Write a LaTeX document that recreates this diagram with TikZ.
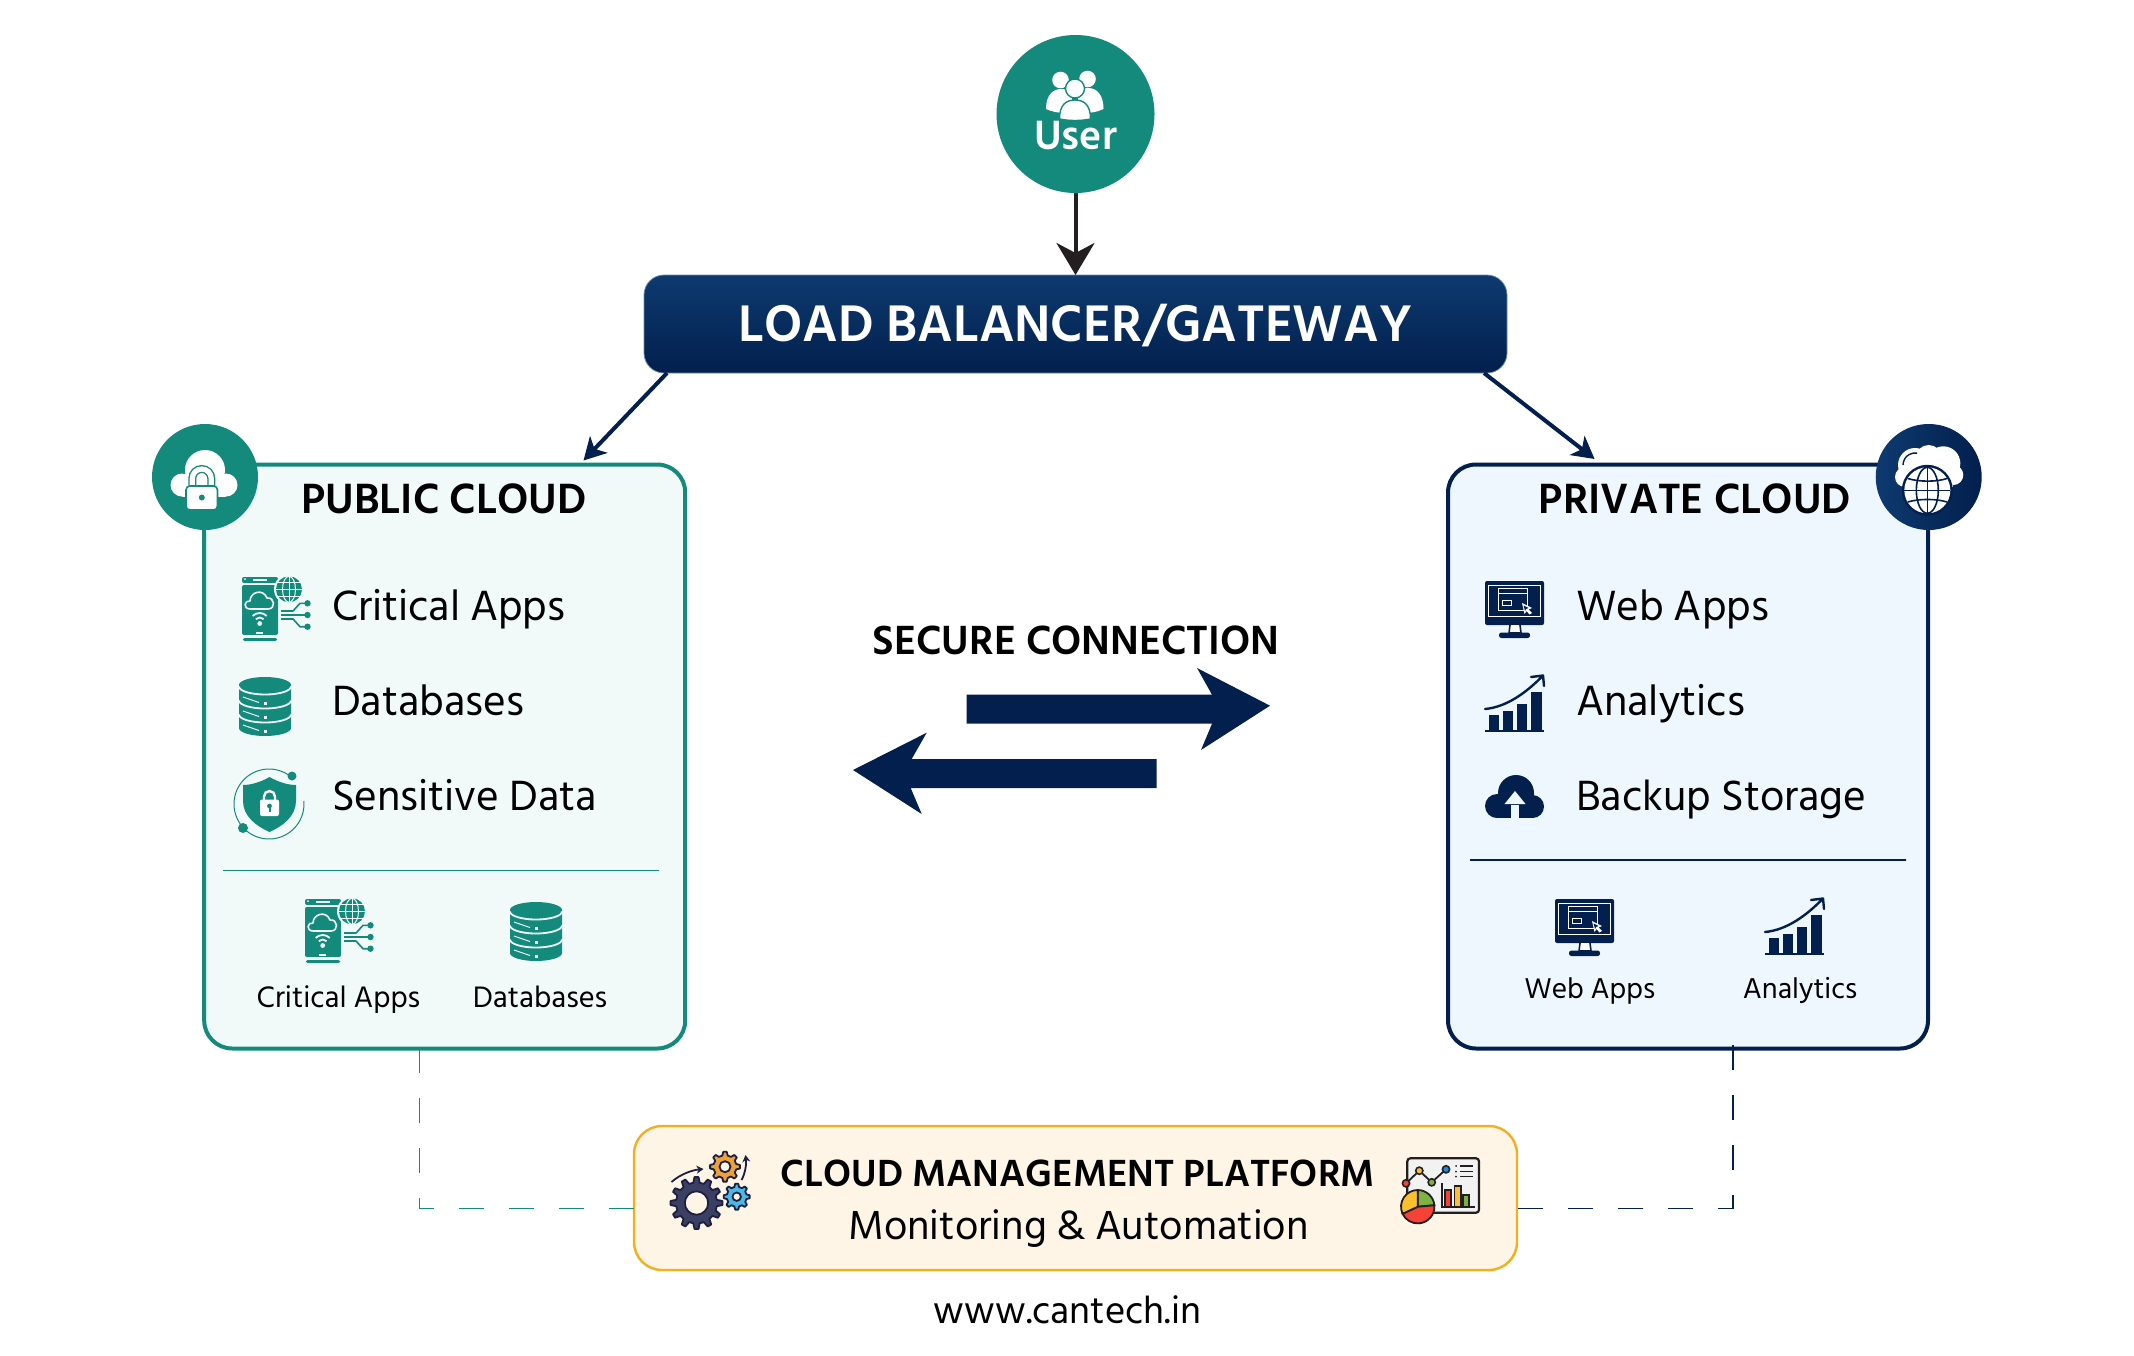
\documentclass[tikz,border=0pt]{standalone}
\usepackage{fontspec}
\usetikzlibrary{arrows.meta}
\newfontfamily\hind{Hind Siliguri}
\newcommand\fs[1]{\fontsize{#1}{#1}\selectfont}
\definecolor{tealc}{HTML}{148A7C}
\definecolor{navyc}{HTML}{021F4D}
\definecolor{navyl}{HTML}{0E3A70}
\definecolor{pubfc}{HTML}{F1FAF9}
\definecolor{prvfc}{HTML}{EFF7FE}
\definecolor{cmpfc}{HTML}{FEF5E6}
\definecolor{amberc}{HTML}{F5AE1E}
\definecolor{inkc}{HTML}{231F20}
\definecolor{gearc}{HTML}{3A3F63}
\definecolor{geard}{HTML}{1C2040}
\definecolor{gearo}{HTML}{EDA136}
\definecolor{gearb}{HTML}{4BB8E8}
\definecolor{chr}{HTML}{F44336}
\definecolor{chy}{HTML}{FBC02D}
\definecolor{chg}{HTML}{7CB342}
\definecolor{chb}{HTML}{1E88E5}
\newcommand\geardraw[8]{% cx cy ro rr hole n fill holefill
  \begin{scope}[shift={(#1,#2)}]
    \pgfmathsetmacro\gs{360/#6}
    \draw[draw=geard,fill=#7,line width=.9pt,line join=round] ({-.3*\gs}:#4)
      \foreach \k [evaluate=\k as \ga using \k*\gs] in {0,...,\numexpr#6-1\relax} {
        -- ({\ga-.3*\gs}:#4) -- ({\ga-.15*\gs}:#3) -- ({\ga+.15*\gs}:#3) -- ({\ga+.3*\gs}:#4)
      } -- cycle;
    \draw[draw=geard,fill=#8,line width=.9pt] (0,0) circle[radius=#5];
  \end{scope}}
\tikzset{
  x=.5pt,y=-.5pt,
  every node/.style={inner sep=0pt,outer sep=0pt},
  titletxt/.style={font=\hind\bfseries\fs{21.7},text=black,anchor=base},
  itemtxt/.style={font=\hind\fs{21.7},text=black,anchor=base west},
  subtxt/.style={font=\hind\fs{15.2},text=black,anchor=base},
  subtxtb/.style={font=\hind\fs{14.7},text=black,anchor=base},
  pubbox/.style={draw=tealc,fill=pubfc,line width=2pt,rounded corners=14pt,minimum width=240.5pt,minimum height=292pt},
  prvbox/.style={draw=navyc,fill=prvfc,line width=2pt,rounded corners=14pt,minimum width=240pt,minimum height=292pt},
  dbicon/.pic={
    \fill[tealc] (0,8) -- (0,51) arc[start angle=180,end angle=0,x radius=26,y radius=8] -- (52,8) arc[start angle=0,end angle=-180,x radius=26,y radius=8] -- cycle;
    \foreach \yy in {9.5,23.5,37.5}{
      \draw[pubfc,line width=.9pt] (0,\yy) arc[start angle=180,end angle=0,x radius=26,y radius=8];}
    \foreach \yy in {26,40,54}{\fill[pubfc] (24.5,\yy-1.5) rectangle (27.5,\yy+1.5);}
    \draw[pubfc,line width=.5pt] (4,20) -- (20,25.5) (4,34) -- (20,39.5) (4,48) -- (20,53.5);
  },
  phoneicon/.pic={
    \fill[tealc,rounded corners=1pt] (0,1) rectangle (36,7);
    \fill[pubfc] (3,3.2) circle[radius=1];
    \fill[pubfc] (11,3) rectangle (25,4.6);
    \fill[tealc,rounded corners=1pt] (0,9) rectangle (36,59);
    \fill[tealc,rounded corners=1pt] (1,62) rectangle (35,65);
    \draw[pubfc,line width=.8pt,line join=round] (8,33) .. controls (1,33) and (2,24) .. (8,25) .. controls (8,16) and (21,12) .. (25,22) .. controls (33,21) and (34,33) .. (26,33) -- cycle;
    \draw[pubfc,line width=.9pt] (17.7,47) ++(-135:10) arc[start angle=-135,end angle=-45,radius=10];
    \draw[pubfc,line width=.9pt] (17.7,47) ++(-135:5.5) arc[start angle=-135,end angle=-45,radius=5.5];
    \fill[pubfc] (17.7,47.5) circle[radius=2.4];
    \fill[pubfc] (14,55.5) rectangle (21,57.5);
    \fill[pubfc] (47,13.3) circle[radius=15];
    \fill[tealc] (47,13.3) circle[radius=13];
    \draw[pubfc,line width=.5pt] (34,13.3) -- (60,13.3) (36,6.5) -- (58,6.5) (36,20) -- (58,20) (47,0.3) -- (47,26.3);
    \draw[pubfc,line width=.5pt] (47,13.3) ellipse[x radius=6.5,y radius=13];
    \draw[tealc,line width=.8pt,line join=round] (39,35) -- (51,35) -- (58,27.3) -- (65,27.3) (39,39) -- (65,39) (39,43) -- (51,43) -- (58,50.7) -- (65,50.7);
    \foreach \yy in {27.3,39,50.7}{\fill[tealc] (65.5,\yy) circle[radius=3.2];}
  },
  shieldicon/.pic={
    \draw[tealc,line width=.5pt] (36,36) ++(-50:35) arc[start angle=-50,end angle=-223,radius=35];
    \draw[tealc,line width=.5pt] (36,36) ++(137:35) arc[start angle=137,end angle=-5,radius=35];
    \fill[tealc] (59,8) circle[radius=4.5];
    \fill[tealc] (10,60) circle[radius=5];
    \fill[tealc] (36.5,9) .. controls (45,14) and (55,17) .. (63,17) -- (63,33) .. controls (63,48) and (50,58) .. (36.5,64) .. controls (23,58) and (10,48) .. (10,33) -- (10,17) .. controls (18,17) and (28,14) .. (36.5,9) -- cycle;
    \draw[white,line width=1.2pt] (31,32) -- (31,28.5) arc[start angle=180,end angle=360,radius=5.5] -- (42,32);
    \fill[white,rounded corners=1pt] (27,31.5) rectangle (46,48);
    \fill[tealc] (36.5,38) circle[radius=2.4];
    \fill[tealc] (35.5,38) rectangle (37.5,44);
  },
  monicon/.pic={
    \fill[navyc,rounded corners=1pt] (0,0) rectangle (59,44);
    \draw[white,line width=.4pt] (3.5,4.6) rectangle (55.5,35);
    \draw[white,line width=.5pt] (13,7.5) rectangle (42,29);
    \draw[white,line width=.5pt] (13,12) -- (42,12);
    \draw[white,line width=.5pt] (17,19) rectangle (26,24);
    \fill[white] (37,22) -- (47,27) -- (43.5,28.5) -- (47,32) -- (44.5,33.5) -- (41.5,30) -- (39.5,33) -- cycle;
    \fill[navyc] (38.6,24.5) -- (43.5,27) -- (41,28) -- (40,30) -- cycle;
    \draw[navyc,line width=.8pt,fill=white] (25,44) -- (24,52) -- (36,52) -- (35,44);
    \fill[navyc,rounded corners=1.2pt] (14,51.5) rectangle (45,57);
  },
  charticon/.pic={
    \fill[navyc] (3.5,41) rectangle (14,56);
    \fill[navyc] (18,36.6) rectangle (28,56);
    \fill[navyc] (32,30) rectangle (42,56);
    \fill[navyc] (46,18) rectangle (57,56);
    \fill[navyc] (0,56) rectangle (59,58);
    \draw[navyc,line width=1.2pt,line cap=round,line join=round] (0,35) .. controls (22,33) and (42,18) .. (58,1.5) (46,3) -- (58,1.5) -- (59,12);
  },
  cloudicon/.pic={
    \fill[navyc] (31,18) circle[radius=18];
    \fill[navyc] (12,31) circle[radius=12];
    \fill[navyc] (47.5,31.5) circle[radius=11.5];
    \fill[navyc] (12,25) rectangle (47,43);
    \fill[prvfc] (26,30) rectangle (34.4,44);
    \fill[prvfc] (19.5,29) -- (30,16) -- (40.5,29) -- cycle;
  },
  lockbadge/.pic={
    \fill[white] (0,-7) circle[radius=20];
    \fill[white] (-23,8) circle[radius=11.5];
    \fill[white] (21,8) circle[radius=11.5];
    \fill[white] (-23,5) rectangle (21,19.5);
    \draw[tealc,line width=4pt] (-12.7,10) -- (-12.7,1.5) arc[start angle=180,end angle=360,radius=9.5] -- (6.3,10);
    \draw[white,line width=2.6pt] (-12.7,10) -- (-12.7,1.5) arc[start angle=180,end angle=360,radius=9.5] -- (6.3,10);
    \draw[tealc,fill=white,line width=.8pt,rounded corners=2pt] (-19,9) rectangle (12.5,33);
    \fill[tealc] (-3.2,20.5) circle[radius=3];
  },
  globebadge/.pic={
    \fill[white] (-13.7,-12) circle[radius=17];
    \fill[white] (14.6,-13.7) circle[radius=17];
    \fill[white] (0,-19) circle[radius=13];
    \fill[white] (-23.7,0) circle[radius=10];
    \fill[white] (24.6,-2) circle[radius=10];
    \fill[white] (-23,-2) rectangle (24,10);
    \draw[navyc,line width=.7pt] (-13.7,-12) ++(180:12) arc[start angle=180,end angle=280,radius=12];
    \fill[navyc] (-1.4,13.3) circle[radius=25.5];
    \fill[white] (-1.4,13.3) circle[radius=23];
    \begin{scope}
      \draw[navyc,line width=.8pt] (-1.4,-9.7) -- (-1.4,36.3) (-24.4,13.3) -- (21.6,13.3);
      \draw[navyc,line width=.8pt] (-1.4,13.3) ellipse[x radius=11,y radius=23];
      \draw[navyc,line width=.8pt] (-21,1.5) .. controls (-10,5) and (8,5) .. (18.2,1.5) (-21,25) .. controls (-10,21.6) and (8,21.6) .. (18.2,25);
    \end{scope}
  },
  usersicon/.pic={
    \fill[white] (-14.5,-32) circle[radius=8.3];
    \fill[white] (12.5,-33) circle[radius=8.3];
    \fill[white] (-29,-3) .. controls (-29,-17) and (-22,-23) .. (-14,-23) .. controls (-6,-23) and (-3,-18) .. (-3,-12) -- (-3,0) .. controls (-14,2) and (-22,0) .. (-29,-3) -- cycle;
    \fill[white] (28.5,-3) .. controls (28.5,-17) and (22,-24) .. (13,-24) .. controls (6,-24) and (3,-18) .. (3,-12) -- (3,0) .. controls (14,2) and (22,0) .. (28.5,-3) -- cycle;
    \draw[tealc,fill=white,line width=.7pt] (0,-23.5) circle[radius=9.5];
    \draw[tealc,fill=white,line width=.7pt] (-15.5,7) .. controls (-15.5,-6) and (-10,-12) .. (0,-12) .. controls (10,-12) and (15.5,-6) .. (15.5,7) .. controls (6,9) and (-6,9) .. (-15.5,7) -- cycle;
  },
  gearsicon/.pic={
    \geardraw{26}{52}{26}{20.5}{11.7}{12}{gearc}{cmpfc}
    \geardraw{54.5}{15.7}{15}{11.5}{5.5}{8}{gearo}{cmpfc}
    \geardraw{66.2}{45.7}{13}{10}{4.2}{8}{gearb}{cmpfc}
    \draw[geard,line width=.9pt,-{Stealth[length=3.5pt,width=4pt]}] (1,31) .. controls (10,23) and (22,19) .. (33,18);
    \draw[geard,line width=.9pt,-{Stealth[length=3.5pt,width=4pt]}] (71,29) .. controls (75,22) and (76,12) .. (75,4);
  },
  dashicon/.pic={
    \draw[inkc,fill=white!95!black,line width=1.1pt,rounded corners=1.5pt] (6.3,.3) rectangle (78,54.7);
    \draw[inkc,line width=.9pt] (5,25.3) -- (18.3,12.7) -- (30.7,24.3) -- (45,11.3);
    \draw[inkc,fill=chr,line width=.8pt] (5,25.3) circle[radius=3.6];
    \draw[inkc,fill=chy,line width=.8pt] (18.3,12.7) circle[radius=3.6];
    \draw[inkc,fill=chg,line width=.8pt] (30.7,24.3) circle[radius=3.6];
    \draw[inkc,fill=chb,line width=.8pt] (45,11.3) circle[radius=3.6];
    \foreach \yy in {8,13.7,18.7}{
      \fill[inkc] (55,\yy) circle[radius=1];
      \draw[inkc,line width=.7pt] (59,\yy) -- (72,\yy);}
    \draw[inkc,fill=chr,line width=.7pt] (44,49) rectangle (50,32);
    \draw[inkc,fill=chy,line width=.7pt] (53.3,49) rectangle (60,28);
    \draw[inkc,fill=chg,line width=.7pt] (62,49) rectangle (68,37);
    \draw[inkc,line width=.9pt] (40.7,25.3) -- (40.7,49.3) -- (74,49.3);
    \begin{scope}[shift={(16.7,48.7)}]
      \draw[inkc,fill=chg,line width=.9pt] (0,0) -- (-90:16.7) arc[start angle=-90,end angle=-5,radius=16.7] -- cycle;
      \draw[inkc,fill=chr,line width=.9pt] (0,0) -- (-5:16.7) arc[start angle=-5,end angle=155,radius=16.7] -- cycle;
      \draw[inkc,fill=chy,line width=.9pt] (0,0) -- (155:16.7) arc[start angle=155,end angle=270,radius=16.7] -- cycle;
    \end{scope}
  },
}
\begin{document}
\begin{tikzpicture}
\useasboundingbox (0,0) rectangle (2134,1355);
% dashed links lie below the boxes
\node[minimum width=441.5pt,minimum height=72pt,draw=amberc,fill=cmpfc,line width=1.2pt,rounded corners=14pt] (cmp) at (1075.5,1198) {};
\node[pubbox] (pub) at (444.7,756.5) {};
\node[prvbox] (prv) at (1688,756.5) {};
\coordinate (pubd) at (419.3,1048);
\coordinate (prvd) at (1733,1045);
\coordinate (cmpl) at (634,1208.3);
\coordinate (cmpr) at (1517,1208.3);
\draw[tealc,line width=.6pt,dash pattern=on 12.5pt off 12.5pt] (pubd) |- (cmpl);
\draw[navyc,line width=.8pt,dash pattern=on 12.5pt off 12.5pt on 12.5pt off 12.5pt on 12.5pt off 12.5pt on 14pt off 12.5pt on 12.5pt off 12.5pt on 12.5pt off 12.5pt on 12.5pt off 12.5pt on 12.5pt off 12.5pt] (prvd) |- (cmpr);
% header
\node[circle,fill=tealc,minimum size=79pt] (user) at (1075.5,114) {};
\node[draw=navyl!60,top color=navyl,bottom color=navyc,line width=.4pt,rounded corners=10pt,minimum width=431.5pt,minimum height=49pt] (lb) at (1075.5,324) {};
\draw[inkc,line width=2pt,-{Stealth[length=16pt,width=19pt,inset=5pt]}] (user) -- (lb.north);
\coordinate (lbl) at (667,373);
\coordinate (lbr) at (1484,373);
\coordinate (pubt) at (583.5,460.5);
\coordinate (prvt) at (1594.6,459);
\draw[navyc,line width=2pt,-{Stealth[length=11pt,width=12pt,inset=3pt]}] (lbl) -- (pubt);
\draw[navyc,line width=2pt,-{Stealth[length=11pt,width=12pt,inset=3pt]}] (lbr) -- (prvt);
\pic at (1075,112) {usersicon};
\node[font=\hind\bfseries\fs{21},text=white,anchor=base] (usert) at (1075.5,149) {User};
\node[font=\hind\bfseries\fs{26.4},text=white,anchor=base] (lbt) at (1075.5,341) {LOAD BALANCER/GATEWAY};
% badges
\node[circle,fill=tealc,minimum size=53pt] (pubb) at (205,477) {};
\node[circle,left color=navyl,middle color=navyc,right color=navyc,minimum size=53pt] (prvb) at (1928.7,477) {};
\pic at (205,477) {lockbadge};
\pic at (1928.7,477) {globebadge};
% public cloud
\node[titletxt] (pubt1) at (444,513) {PUBLIC CLOUD};
\pic at (242,576) {phoneicon};
\pic at (239,677) {dbicon};
\pic at (233,768) {shieldicon};
\node[itemtxt] (pubi1) at (332,620) {Critical Apps};
\node[itemtxt] (pubi2) at (332,715) {Databases};
\node[itemtxt] (pubi3) at (332,810.6) {Sensitive Data};
\node[draw=tealc,line width=.8pt,minimum width=218pt,minimum height=0pt,inner sep=0pt] (pubs) at (441,870.4) {};
\pic at (305,898) {phoneicon};
\pic at (510,902) {dbicon};
\node[subtxt] (publ1) at (338.5,1007) {Critical Apps};
\node[subtxt] (publ2) at (540,1007) {Databases};
% private cloud
\node[titletxt] (prvt1) at (1695,513) {PRIVATE CLOUD};
\pic at (1485,581) {monicon};
\pic at (1485,674) {charticon};
\pic at (1485,775) {cloudicon};
\node[itemtxt] (prvi1) at (1576,620) {Web Apps};
\node[itemtxt] (prvi2) at (1576,715) {Analytics};
\node[itemtxt] (prvi3) at (1576,810.6) {Backup Storage};
\node[draw=navyc,line width=.8pt,minimum width=218pt,minimum height=0pt,inner sep=0pt] (prvs) at (1688,860) {};
\pic at (1555,899) {monicon};
\pic at (1765,897) {charticon};
\node[subtxtb] (prvl1) at (1589.7,998.5) {Web Apps};
\node[subtxtb] (prvl2) at (1800,998.5) {Analytics};
% secure connection
\node[font=\hind\bfseries\fs{20.9},text=black,anchor=base] (sec) at (1076,654.7) {SECURE CONNECTION};
\fill[navyc] (966.7,694.7) -- (1212,694.7) -- (1197,668) -- (1270,705.7) -- (1201,750) -- (1212,723.7) -- (966.7,723.7) -- cycle;
\fill[navyc] (1156.7,759) -- (911.7,759) -- (926.7,732.7) -- (853,770) -- (921.7,814) -- (910.7,788) -- (1156.7,788) -- cycle;
% platform
\pic at (670.5,1151) {gearsicon};
\pic at (1401,1158) {dashicon};
\node[font=\hind\bfseries\fs{19.4},text=black,anchor=base] (cmpt) at (1078,1186) {CLOUD MANAGEMENT PLATFORM};
\node[font=\hind\fs{20.8},text=black,anchor=base] (cmps) at (1078.5,1239) {Monitoring \& Automation};
\node[font=\hind\fs{19.4},text=black,anchor=base] (web) at (1067.5,1323) {www.cantech.in};
\end{tikzpicture}
\end{document}
